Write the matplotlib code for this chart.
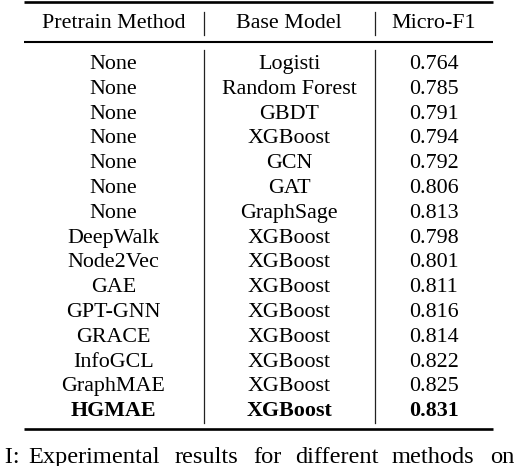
import matplotlib
matplotlib.use("Agg")
import matplotlib.pyplot as plt

headers = ["Pretrain Method", "Base Model", "Micro-F1"]
pretrain = ["None", "None", "None", "None", "None", "None", "None",
            "DeepWalk", "Node2Vec", "GAE", "GPT-GNN", "GRACE", "InfoGCL",
            "GraphMAE", "HGMAE"]
base_model = ["Logisti", "Random Forest", "GBDT", "XGBoost", "GCN", "GAT",
              "GraphSage", "XGBoost", "XGBoost", "XGBoost", "XGBoost",
              "XGBoost", "XGBoost", "XGBoost", "XGBoost"]
micro_f1 = [0.764, 0.785, 0.791, 0.794, 0.792, 0.806, 0.813, 0.798, 0.801,
            0.811, 0.816, 0.814, 0.822, 0.825, 0.831]
bold_rows = [14]
caption_words = ["Experimental", "results", "for", "different", "methods", "on"]

W, H = 514, 466
fig = plt.figure(figsize=(W / 100, H / 100), dpi=100)
ax = fig.add_axes([0, 0, 1, 1])
ax.set_xlim(0, W)
ax.set_ylim(H, 0)
ax.axis("off")

font = "Liberation Serif"
fs = 15.8
col_x = [113.5, 289, 434]
left, right = 24, 493
sep_x = [204, 375]

# rules
ax.plot([left, right], [1.8, 1.8], color="black", lw=1.9, solid_capstyle="butt")
ax.plot([left, right], [42, 42], color="black", lw=1.5, solid_capstyle="butt")
ax.plot([left, right], [429, 429], color="black", lw=1.9, solid_capstyle="butt")

# header
for x, h in zip(col_x, headers):
    ax.text(x, 28.3, h, ha="center", va="baseline", fontsize=fs, family=font)
for sx in sep_x:
    ax.plot([sx, sx], [12, 35], color="#222222", lw=0.9)
    ax.plot([sx, sx], [50, 423], color="#222222", lw=0.9)

# body
base0, step = 69.0, 24.8
for i, (p, b, v) in enumerate(zip(pretrain, base_model, micro_f1)):
    y = base0 + step * i
    w = "bold" if i in bold_rows else "normal"
    for x, t in zip(col_x, [p, b, f"{v:.3f}"]):
        ax.text(x, y, t, ha="center", va="baseline", fontsize=fs,
                family=font, fontweight=w)

# caption (cut off at the figure edges)
cfs = 17.6
ax.text(20, 463, "TABLE I:", ha="right", va="baseline", fontsize=cfs, family=font)
word_x = [28, 175, 253, 295, 392, 490]
for x, wd in zip(word_x, caption_words):
    ax.text(x, 463, wd, ha="left", va="baseline", fontsize=cfs, family=font)

fig.savefig("out.png", dpi=100)
